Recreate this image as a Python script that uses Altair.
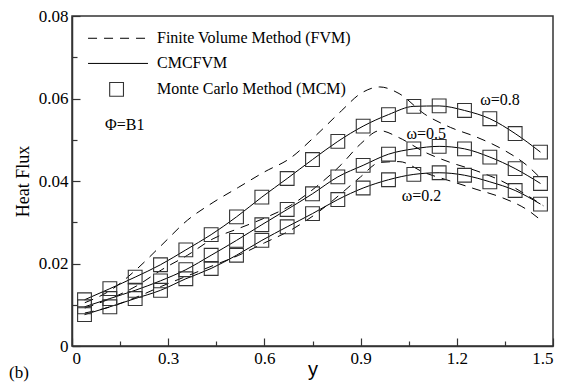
import altair as alt
import pandas as pd

# ---------------- data ----------------
x_mcm = [0.039, 0.118, 0.197, 0.276, 0.355, 0.434, 0.513, 0.592, 0.671, 0.750,
         0.829, 0.908, 0.987, 1.066, 1.145, 1.224, 1.303, 1.382, 1.461]
mcm_08 = [0.0112, 0.0139, 0.0167, 0.0197, 0.0233, 0.0270, 0.0313, 0.0361, 0.0406, 0.0452,
          0.0496, 0.0533, 0.0561, 0.0581, 0.0582, 0.0571, 0.0551, 0.0515, 0.0470]
mcm_05 = [0.0095, 0.0115, 0.0135, 0.0158, 0.0185, 0.0220, 0.0256, 0.0294, 0.0331, 0.0369,
          0.0410, 0.0438, 0.0465, 0.0478, 0.0484, 0.0478, 0.0458, 0.0430, 0.0394]
mcm_02 = [0.0076, 0.0095, 0.0115, 0.0135, 0.0163, 0.0188, 0.0220, 0.0256, 0.0289, 0.0321,
          0.0355, 0.0383, 0.0403, 0.0416, 0.0420, 0.0414, 0.0398, 0.0377, 0.0344]

x_fvm = [0.04, 0.12, 0.20, 0.28, 0.36, 0.44, 0.52, 0.60, 0.68, 0.76,
         0.84, 0.90, 0.96, 1.02, 1.10, 1.18, 1.26, 1.34, 1.42, 1.47]
fvm_08 = [0.0105, 0.0135, 0.0185, 0.0245, 0.0305, 0.0348, 0.0385, 0.0422, 0.0455, 0.0510,
          0.0570, 0.0612, 0.0628, 0.0612, 0.0562, 0.0530, 0.0507, 0.0478, 0.0437, 0.0400]
fvm_05 = [0.0092, 0.0115, 0.0145, 0.0185, 0.0220, 0.0260, 0.0285, 0.0310, 0.0340, 0.0385,
          0.0440, 0.0490, 0.0522, 0.0505, 0.0470, 0.0445, 0.0425, 0.0400, 0.0365, 0.0340]
fvm_02 = [0.0080, 0.0095, 0.0118, 0.0145, 0.0170, 0.0195, 0.0220, 0.0250, 0.0280, 0.0320,
          0.0370, 0.0410, 0.0445, 0.0447, 0.0420, 0.0400, 0.0380, 0.0360, 0.0330, 0.0300]

omegas = ["0.8", "0.5", "0.2"]
curve_labels = ["ω=0.8", "ω=0.5", "ω=0.2"]
curve_label_x = [1.335, 1.105, 1.09]
curve_label_y = [0.0596, 0.0515, 0.0363]

legend_texts = ["Finite Volume Method (FVM)", "CMCFVM", "Monte Carlo Method (MCM)"]
legend_y = [0.0746, 0.0685, 0.0622]
legend_line_x = [0.05, 0.237]
legend_sym_x = 0.139
legend_text_x = 0.265

phi_text = "Φ=B1"
phi_x, phi_y = 0.103, 0.0535

x_ticks = [0, 0.15, 0.3, 0.45, 0.6, 0.75, 0.9, 1.05, 1.2, 1.35, 1.5]
y_ticks = [0, 0.01, 0.02, 0.03, 0.04, 0.05, 0.06, 0.07, 0.08]

# ---------------- tables ----------------
mcm_df = pd.DataFrame({
    "x": x_mcm * 3,
    "y": mcm_08 + mcm_05 + mcm_02,
    "w": [o for o in omegas for _ in x_mcm],
})
fvm_df = pd.DataFrame({
    "x": x_fvm * 3,
    "y": fvm_08 + fvm_05 + fvm_02,
    "w": [o for o in omegas for _ in x_fvm],
})
lab_df = pd.DataFrame({"t": curve_labels, "x": curve_label_x, "y": curve_label_y})
leg_dash = pd.DataFrame({"x": legend_line_x, "y": [legend_y[0]] * 2})
leg_solid = pd.DataFrame({"x": legend_line_x, "y": [legend_y[1]] * 2})
leg_sym = pd.DataFrame({"x": [legend_sym_x], "y": [legend_y[2]]})
leg_txt = pd.DataFrame({"t": legend_texts, "x": [legend_text_x] * 3, "y": legend_y})
phi_df = pd.DataFrame({"t": [phi_text], "x": [phi_x], "y": [phi_y]})

SERIF = "Liberation Serif"
xs = alt.Scale(domain=[0, 1.5], nice=False, zero=False)
ys = alt.Scale(domain=[0, 0.08], nice=False, zero=False)

maj_x = "indexof([0,0.3,0.6,0.9,1.2,1.5], datum.value) >= 0"
maj_y = "indexof([0,0.02,0.04,0.06,0.08], datum.value) >= 0"

x_axis = alt.Axis(
    values=x_ticks, grid=False, title="y",
    labelExpr=f"{maj_x} ? (datum.value == 0 ? '0' : format(datum.value, '.1f')) : ''",
    tickSize={"condition": {"test": maj_x, "value": -8}, "value": -5},
    labelPadding=12, titleFont="Liberation Sans", titleFontSize=20,
    titleFontWeight="normal", titleBaseline="middle", titleY=23,
)
y_axis = alt.Axis(
    values=y_ticks, grid=False, title="Heat Flux",
    labelExpr=f"{maj_y} ? (datum.value == 0 ? '0' : format(datum.value, '.2f')) : ''",
    tickSize={"condition": {"test": maj_y, "value": -8}, "value": -5},
    labelPadding=12, titleFont=SERIF, titleFontSize=18,
    titleFontWeight="normal", titlePadding=6,
)

X = alt.X("x:Q", scale=xs, axis=x_axis)
Y = alt.Y("y:Q", scale=ys, axis=y_axis)
Xp = alt.X("x:Q", scale=xs)
Yp = alt.Y("y:Q", scale=ys)

fvm = alt.Chart(fvm_df).mark_line(
    color="black", strokeWidth=1, strokeDash=[9, 7], interpolate="monotone"
).encode(x=X, y=Y, detail="w:N")

cmc = alt.Chart(mcm_df).mark_line(
    color="black", strokeWidth=1, interpolate="monotone"
).encode(x=Xp, y=Yp, detail="w:N")

pts = alt.Chart(mcm_df).mark_point(
    shape="square", filled=False, color="#333333", size=190, strokeWidth=1.1, opacity=1
).encode(x=Xp, y=Yp)

labs = alt.Chart(lab_df).mark_text(font=SERIF, fontSize=16, color="black").encode(
    x=Xp, y=Yp, text="t:N")

ld = alt.Chart(leg_dash).mark_line(color="black", strokeWidth=1, strokeDash=[9, 7]).encode(x=Xp, y=Yp)
ls = alt.Chart(leg_solid).mark_line(color="black", strokeWidth=1).encode(x=Xp, y=Yp)
lp = alt.Chart(leg_sym).mark_point(
    shape="square", filled=False, color="#333333", size=190, strokeWidth=1.1, opacity=1
).encode(x=Xp, y=Yp)
lt = alt.Chart(leg_txt).mark_text(font=SERIF, fontSize=16, align="left", color="black").encode(
    x=Xp, y=Yp, text="t:N")
ph = alt.Chart(phi_df).mark_text(font=SERIF, fontSize=16, align="left", color="black").encode(
    x=Xp, y=Yp, text="t:N")

chart = alt.layer(fvm, cmc, pts, labs, ld, ls, lp, lt, ph).properties(
    width=481, height=330,
    title=alt.TitleParams("(b)", orient="bottom", anchor="start", frame="group",
                          font=SERIF, fontSize=17, fontWeight="normal", dx=-63, offset=-14),
    autosize=alt.AutoSizeParams(type="none"),
    padding={"left": 64, "top": 8, "right": 3, "bottom": 37},
).configure_view(stroke="#333333", strokeWidth=1.5).configure_axis(
    domainColor="#333333", domainWidth=1.5, tickColor="#333333", tickWidth=1.2,
    labelFont=SERIF, labelFontSize=17, labelColor="black", titleColor="black",
)

chart.save("out.html", embed_options={"renderer": "svg", "actions": False})
